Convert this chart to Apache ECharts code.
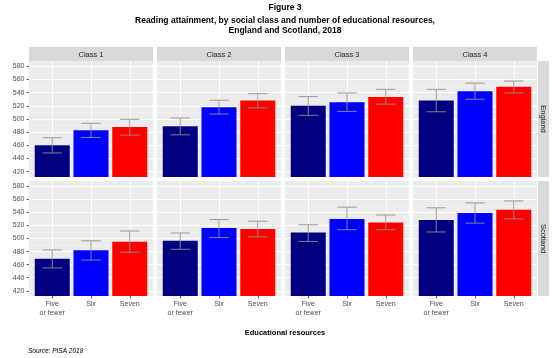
<!DOCTYPE html>
<html>
<head>
<meta charset="utf-8">
<script src="https://cdn.jsdelivr.net/npm/echarts@6/dist/echarts.min.js"></script>
<style>html,body{margin:0;padding:0;background:#fff}#c{width:554px;height:358px}</style>
</head>
<body>
<div id="c"></div>
<script>
const categories = ['Five\nor fewer', 'Six', 'Seven'];
const classes = ['Class 1', 'Class 2', 'Class 3', 'Class 4'];
const countries = ['England', 'Scotland'];
const yTickLabels = [420, 440, 460, 480, 500, 520, 540, 560, 580];
const yMinorLines = [430, 450, 470, 490, 510, 530, 550, 570];
const barColors = ['#000080', '#0000FF', '#FF0000'];

// mean score per class (rows) and resource group (cols)
const englandMean = [[460, 483, 488], [489, 518, 528], [520, 525.5, 533.5], [528, 542, 549]];
const englandLow  = [[448.5, 472, 475.5], [476, 507.5, 517], [505.5, 511.5, 522.5], [511, 530, 539.5]];
const englandHigh = [[471.5, 493.5, 499.5], [501.5, 528.5, 538.5], [534, 539.5, 545], [545, 554.5, 557.5]];
const scotlandMean = [[469, 482, 495], [496.5, 516, 514.5], [509, 530, 524.5], [528.5, 539, 544]];
const scotlandLow  = [[455, 467, 479], [483.5, 501.5, 502.5], [495.5, 513.5, 513.5], [510, 523.5, 530]];
const scotlandHigh = [[482.5, 496.5, 511.5], [508.5, 529, 526.5], [521, 548, 536], [547, 554.5, 557.5]];

const means = [englandMean, scotlandMean];
const lows = [englandLow, scotlandLow];
const highs = [englandHigh, scotlandHigh];

const font = 'Liberation Sans, Arial, sans-serif';
const panelLeft = [29, 157, 285, 413];
const panelW = 124;
const rowTop = [61, 181];
const rowH = [116, 115];

const grid = [], xAxis = [], yAxis = [], series = [], graphic = [];

for (let r = 0; r < 2; r++) {
  for (let c = 0; c < 4; c++) {
    const gi = r * 4 + c;
    grid.push({left: panelLeft[c], top: rowTop[r], width: panelW, height: rowH[r],
      show: true, backgroundColor: '#EBEBEB', borderWidth: 0, containLabel: false});
    xAxis.push({type: 'value', gridIndex: gi, min: 0.4, max: 3.6,
      axisLine: {show: false},
      axisTick: {show: r === 1, customValues: [1, 2, 3], length: 2.5, lineStyle: {color: '#333', width: 0.8}},
      axisLabel: {show: r === 1, customValues: [1, 2, 3], margin: 4, fontSize: 7, lineHeight: 8.5,
        color: '#4D4D4D', fontFamily: font,
        formatter: v => categories[Math.round(v) - 1]},
      splitLine: {show: true, lineStyle: {color: '#FFFFFF', width: 1}}
    });
    yAxis.push({type: 'value', gridIndex: gi, min: 412, max: 588,
      axisLine: {show: false},
      axisTick: {show: c === 0, customValues: yTickLabels, length: 2.5, lineStyle: {color: '#333', width: 0.8}},
      axisLabel: {show: c === 0, customValues: yTickLabels, margin: 4.5, fontSize: 7, color: '#4D4D4D', fontFamily: font},
      splitLine: {show: true, lineStyle: {color: '#FFFFFF', width: 1}}
    });
    yAxis.push({type: 'value', gridIndex: gi, min: 412, max: 588, position: 'right',
      axisLine: {show: false},
      axisTick: {show: false, customValues: yMinorLines},
      axisLabel: {show: false, customValues: yMinorLines},
      splitLine: {show: true, lineStyle: {color: '#F5F5F5', width: 0.6}}
    });
    series.push({type: 'bar', xAxisIndex: gi, yAxisIndex: gi * 2, barWidth: 35, z: 3,
      data: means[r][c].map((v, i) => ({value: [i + 1, v], itemStyle: {color: barColors[i]}}))
    });
    series.push({type: 'custom', xAxisIndex: gi, yAxisIndex: gi * 2, z: 4,
      data: means[r][c].map((v, i) => [i + 1, lows[r][c][i], highs[r][c][i]]),
      renderItem: function (params, api) {
        const x = api.value(0);
        const top = api.coord([x, api.value(2)]);
        const bot = api.coord([x, api.value(1)]);
        const half = api.size([0.25, 0])[0];
        const st = {stroke: '#8F8F8F', lineWidth: 0.9};
        return {type: 'group', children: [
          {type: 'line', shape: {x1: top[0], y1: top[1], x2: bot[0], y2: bot[1]}, style: st},
          {type: 'line', shape: {x1: top[0] - half, y1: top[1], x2: top[0] + half, y2: top[1]}, style: st},
          {type: 'line', shape: {x1: bot[0] - half, y1: bot[1], x2: bot[0] + half, y2: bot[1]}, style: st}
        ]};
      }
    });
  }
}

// top strips
for (let c = 0; c < 4; c++) {
  graphic.push({type: 'rect', shape: {x: panelLeft[c], y: 47, width: panelW, height: 14}, style: {fill: '#D9D9D9'}, z: 1});
  graphic.push({type: 'text', x: panelLeft[c] + panelW / 2, y: 54.5, z: 2,
    style: {text: classes[c], font: '7.5px ' + font, fill: '#1A1A1A', align: 'center', verticalAlign: 'middle', textAlign: 'center', textVerticalAlign: 'middle'}});
}
// right strips
for (let r = 0; r < 2; r++) {
  graphic.push({type: 'rect', shape: {x: 538, y: rowTop[r], width: 11, height: rowH[r]}, style: {fill: '#D9D9D9'}, z: 1});
  graphic.push({type: 'text', x: 543.5, y: rowTop[r] + rowH[r] / 2, rotation: -Math.PI / 2, z: 2,
    style: {text: countries[r], font: '7.5px ' + font, fill: '#1A1A1A', align: 'center', verticalAlign: 'middle', textAlign: 'center', textVerticalAlign: 'middle'}});
}
// titles
graphic.push({type: 'text', x: 285, y: 7.5, style: {text: 'Figure 3', font: 'bold 8.5px ' + font, fill: '#000', align: 'center', verticalAlign: 'middle', textAlign: 'center', textVerticalAlign: 'middle'}});
graphic.push({type: 'text', x: 285, y: 21, style: {text: 'Reading attainment, by social class and number of educational resources,', font: 'bold 8.5px ' + font, fill: '#000', align: 'center', verticalAlign: 'middle', textAlign: 'center', textVerticalAlign: 'middle'}});
graphic.push({type: 'text', x: 285, y: 30.5, style: {text: 'England and Scotland, 2018', font: 'bold 8.5px ' + font, fill: '#000', align: 'center', verticalAlign: 'middle', textAlign: 'center', textVerticalAlign: 'middle'}});
graphic.push({type: 'text', x: 285, y: 333, style: {text: 'Educational resources', font: 'bold 7.5px ' + font, fill: '#000', align: 'center', verticalAlign: 'middle', textAlign: 'center', textVerticalAlign: 'middle'}});
graphic.push({type: 'text', x: 28, y: 351, style: {text: 'Source: PISA 2018', font: 'italic 6.5px ' + font, fill: '#000', align: 'left', verticalAlign: 'middle', textAlign: 'left', textVerticalAlign: 'middle'}});

const chart = echarts.init(document.getElementById('c'), null, {renderer: 'canvas'});
chart.setOption({animation: false, backgroundColor: '#FFFFFF', grid, xAxis, yAxis, series, graphic});
</script>
</body>
</html>
